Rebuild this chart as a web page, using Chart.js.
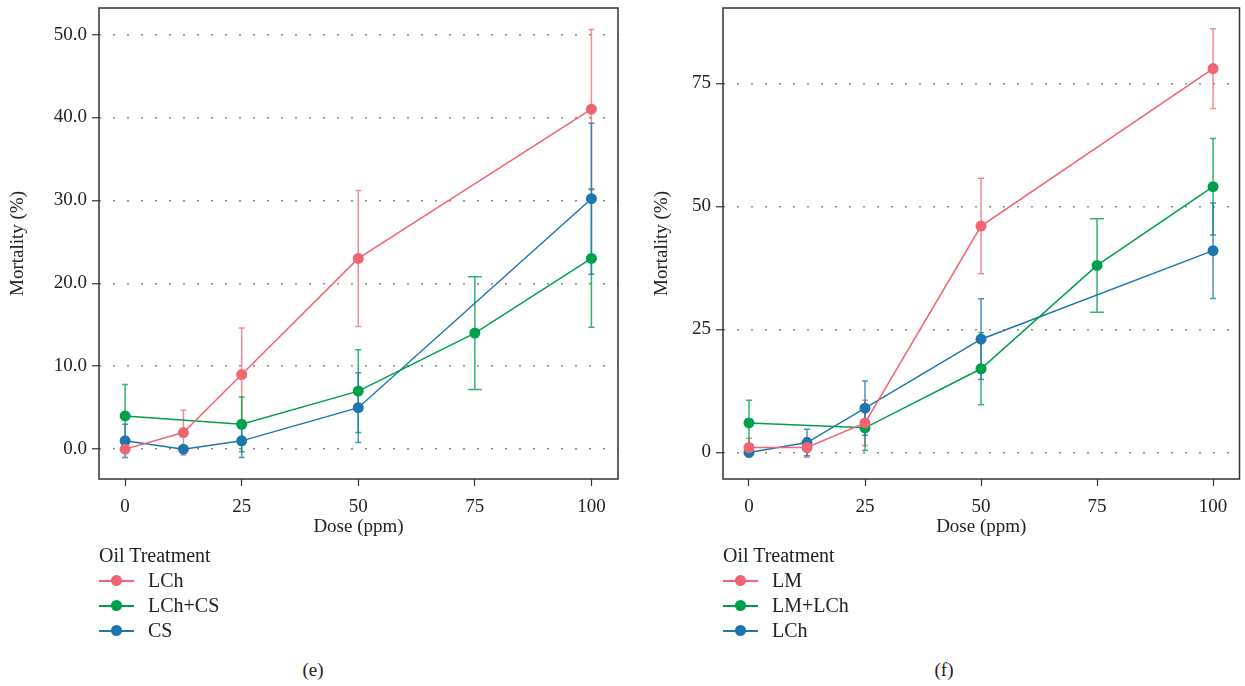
<html>

<head>
    <script src="https://cdn.jsdelivr.net/npm/chart.js"></script>
    <style>
        body { margin: 0; background: #fff; font-family: 'Liberation Serif', serif; color: #222; }
        .panel { position: absolute; top: 0; height: 545px; }
        .legend { position: absolute; top: 543px; font-size: 20px; }
        .legend .title { height: 25px; line-height: 25px; }
        .legend .item { position: relative; height: 25px; line-height: 25px; padding-left: 49px; }
        .legend .line { position: absolute; left: 0; top: 12px; width: 35px; height: 2px; }
        .legend .dot { position: absolute; left: 12px; top: 7px; width: 11px; height: 11px; border-radius: 50%; }
        .caption { position: absolute; top: 658px; width: 60px; margin-left: -30px; text-align: center; font-size: 19px; line-height: 24px; }
    </style>
</head>

<body>
    <div class="panel" style="left:0; width:640px;"><canvas id="chartE"></canvas></div>
    <div class="panel" style="left:640px; width:605px;"><canvas id="chartF"></canvas></div>
    <div id="legendE" class="legend" style="left:99px;"></div>
    <div id="legendF" class="legend" style="left:723px;"></div>
    <div class="caption" style="left:313px;">(e)</div>
    <div class="caption" style="left:944px;">(f)</div>

    <script>
        // doses (ppm) and tick labels
        const doses = [0, 12.5, 25, 50, 75, 100];
        const xTicks = [0, 25, 50, 75, 100];
        const yTicksE = [0, 10, 20, 30, 40, 50];
        const yTicksF = [0, 25, 50, 75];

        // panel (e)
        const namesE = ['LCh', 'LCh+CS', 'CS'];
        const lchE = [0, 2, 9, 23, null, 41];
        const lchErrE = [0, 2.7, 5.6, 8.2, null, 9.6];
        const lchCsE = [4, null, 3, 7, 14, 23];
        const lchCsErrE = [3.8, null, 3.3, 5, 6.8, 8.3];
        const csE = [1, 0, 1, 5, null, 30.2];
        const csErrE = [2, 0, 2, 4.2, null, 9.1];

        // panel (f)
        const namesF = ['LM', 'LM+LCh', 'LCh'];
        const lmF = [1, 1, 6, 46, null, 78];
        const lmErrF = [1.9, 2, 4.6, 9.7, null, 8.1];
        const lmLchF = [6, null, 5, 17, 38, 54];
        const lmLchErrF = [4.6, null, 4.6, 7.3, 9.5, 9.8];
        const lchF = [0, 2, 9, 23, null, 41];
        const lchErrF = [0, 2.7, 5.5, 8.2, null, 9.7];

        const colors = ['#EF6571', '#00A04B', '#1D77AE'];
        const errColors = ['rgba(239,101,113,0.75)', 'rgba(0,160,75,0.8)', 'rgba(29,119,174,0.8)'];

        Chart.defaults.font.family = "'Liberation Serif', serif";
        Chart.defaults.color = '#222';

        function toPoints(vals) {
            return doses.map((d, i) => vals[i] == null ? null : { x: d, y: vals[i] }).filter(p => p);
        }

        const errorBars = {
            id: 'errorBars',
            beforeDatasetsDraw(chart) {
                const ctx = chart.ctx, xs = chart.scales.x, ys = chart.scales.y;
                ctx.save();
                ctx.lineWidth = 1.5;
                chart.data.datasets.forEach(ds => {
                    ctx.strokeStyle = ds.errColor;
                    doses.forEach((d, i) => {
                        const v = ds.values[i], e = ds.errors[i];
                        if (v == null || !e) return;
                        const shared = chart.data.datasets.filter(o => o.values[i] != null).length;
                        const half = shared > 1 ? 3 : 7;
                        const px = xs.getPixelForValue(d);
                        const top = ys.getPixelForValue(v + e), bot = ys.getPixelForValue(v - e);
                        ctx.beginPath();
                        ctx.moveTo(px, top); ctx.lineTo(px, bot);
                        ctx.moveTo(px - half, top); ctx.lineTo(px + half, top);
                        ctx.moveTo(px - half, bot); ctx.lineTo(px + half, bot);
                        ctx.stroke();
                    });
                });
                ctx.restore();
            },
            afterDraw(chart) {
                const a = chart.chartArea, ctx = chart.ctx;
                ctx.save();
                ctx.strokeStyle = '#333';
                ctx.lineWidth = 1.5;
                ctx.strokeRect(a.left, a.top, a.right - a.left, a.bottom - a.top);
                ctx.restore();
            }
        };

        function createChart(canvasId, names, values, errors, yTicks, yMin, yMax, digits, yWidth, titlePad, padRight) {
            const datasets = names.map((n, k) => ({
                label: n,
                data: toPoints(values[k]),
                values: values[k],
                errors: errors[k],
                errColor: errColors[k],
                borderColor: colors[k],
                backgroundColor: colors[k],
                borderWidth: 1.5,
                pointRadius: 5.5,
                pointBorderWidth: 0,
                tension: 0
            }));

            new Chart(document.getElementById(canvasId), {
                type: 'line',
                data: { datasets: datasets },
                options: {
                    responsive: true,
                    maintainAspectRatio: false,
                    animation: false,
                    layout: { padding: { left: 0, top: 8, right: padRight, bottom: 0 } },
                    plugins: { legend: { display: false }, tooltip: { enabled: false } },
                    scales: {
                        x: {
                            type: 'linear',
                            min: -5.6,
                            max: 105.7,
                            afterBuildTicks: s => { s.ticks = xTicks.map(v => ({ value: v })); },
                            afterFit: s => { s.height = 66; s.paddingLeft = 0; s.paddingRight = 0; },
                            ticks: { font: { size: 19 }, padding: 10, maxRotation: 0 },
                            grid: { drawOnChartArea: false, tickLength: 7, tickColor: '#333', tickWidth: 1.2 },
                            border: { display: false },
                            title: { display: true, text: 'Dose (ppm)', font: { size: 19 }, padding: { top: 0, bottom: 7 } }
                        },
                        y: {
                            min: yMin,
                            max: yMax,
                            afterBuildTicks: s => { s.ticks = yTicks.map(v => ({ value: v })); },
                            afterFit: s => { s.width = yWidth; s.paddingTop = 0; s.paddingBottom = 0; },
                            ticks: { font: { size: 19 }, padding: 5, callback: v => v.toFixed(digits) },
                            grid: { color: '#888', lineWidth: 1.5, tickLength: 7, tickColor: '#333', tickWidth: 1.2, tickBorderDash: [] },
                            border: { display: false, dash: [2, 12] },
                            title: { display: true, text: 'Mortality (%)', font: { size: 19 }, padding: { top: titlePad, bottom: 0 } }
                        }
                    }
                },
                plugins: [errorBars]
            });
        }

        function createLegend(divId, names) {
            let html = "<div class='title'>Oil Treatment</div>";
            names.forEach((n, k) => {
                html += "<div class='item'><span class='line' style='background:" + colors[k] + "'></span>" +
                    "<span class='dot' style='background:" + colors[k] + "'></span>" + n + "</div>";
            });
            document.getElementById(divId).innerHTML = html;
        }

        createChart('chartE', namesE, [lchE, lchCsE, csE], [lchErrE, lchCsErrE, csErrE], yTicksE, -3.6, 53.2, 1, 99, 7, 22);
        createChart('chartF', namesF, [lmF, lmLchF, lchF], [lmErrF, lmLchErrF, lchErrF], yTicksF, -5.4, 90.3, 0, 83, 11, 5);
        createLegend('legendE', namesE);
        createLegend('legendF', namesF);
    </script>

</body>

</html>
